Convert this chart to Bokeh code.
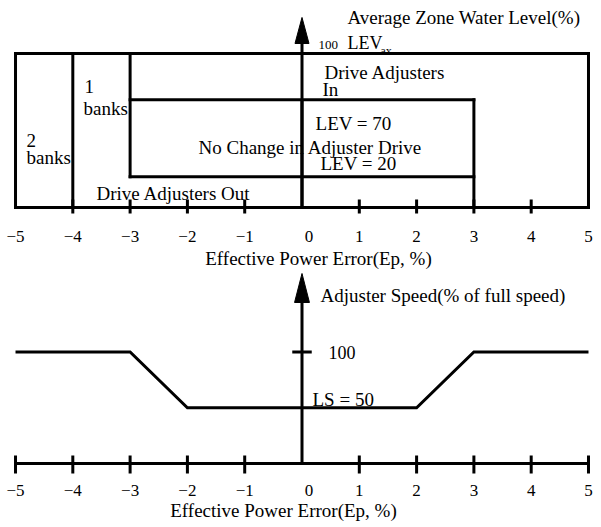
from bokeh.plotting import figure
from bokeh.layouts import column
from bokeh.models import Range1d
from bokeh.core.properties import value
from bokeh.embed import file_html
from bokeh.resources import INLINE

# Effective power error axis
ep_ticks = [-5, -4, -3, -2, -1, 0, 1, 2, 3, 4, 5]
ep_tick_labels = ["\u22125", "\u22124", "\u22123", "\u22122", "\u22121", "0", "1", "2", "3", "4", "5"]
ep_min, ep_max = -5, 5

# Zone map: water level thresholds and bank boundaries
lev_max = 100
lev_in = 70
lev_out = 20
ep_two_banks = -4
ep_one_bank = -3
ep_band = 3

# Adjuster speed profile
speed_ep = [-5, -3, -2, 2, 3, 5]
speed_pct = [100, 100, 50, 50, 100, 100]
speed_full = 100
speed_low = 50

FONT = value("Liberation Serif")
LW = 3
INK = "black"


def make_fig(height, xr, yr):
    p = figure(width=601, height=height, x_range=Range1d(*xr), y_range=Range1d(*yr),
               output_backend="svg", toolbar_location=None,
               x_axis_location=None, y_axis_location=None, min_border=0)
    p.grid.visible = False
    p.outline_line_color = None
    p.background_fill_color = "white"
    p.border_fill_color = "white"
    return p


def label(p, x, y, s, size="19px", align="left", x_offset=0):
    p.text(x=[x], y=[y], text=[s], text_font=FONT, text_font_size=size,
           text_align=align, text_baseline="middle", text_color=INK, x_offset=x_offset)


def segs(p, x0, y0, x1, y1, cap="square"):
    p.segment(x0=x0, y0=y0, x1=x1, y1=y1, line_color=INK, line_width=LW, line_cap=cap)


X_RANGE = (-5.262, 5.227)

# ---------- Zone map: average zone water level vs effective power error ----------
top = make_fig(270, X_RANGE, (-40.91, 134.42))

# outer frame and zone boundaries
segs(top,
     [ep_min, ep_min, ep_min, ep_max, ep_two_banks, ep_one_bank, ep_one_bank, ep_one_bank, ep_band],
     [0, lev_max, 0, 0, 0, lev_out, lev_in, lev_out, 0],
     [ep_max, ep_max, ep_min, ep_max, ep_two_banks, ep_one_bank, ep_band, ep_band, ep_band],
     [0, lev_max, lev_max, lev_max, lev_max, lev_max, lev_in, lev_out, lev_in])

# tick marks crossing the base line
top_ticks = [t for t in ep_ticks if t not in (ep_min, 0, ep_max)]
segs(top, top_ticks, [-3.9] * len(top_ticks), top_ticks, [5.2] * len(top_ticks), cap="butt")

# vertical level axis with arrow head
segs(top, [0], [0], [0], [108], cap="butt")
top.patch(x=[-0.122, 0.122, 0], y=[106.5, 106.5, 123.4], fill_color=INK, line_color=INK, line_width=1)

for t, s in zip(ep_ticks, ep_tick_labels):
    label(top, t, -18.8, s, size="17px", align="center", x_offset=7 if t == 0 else 0)
label(top, 0.288, -33.1, "Effective Power Error(Ep, %)", align="center")

label(top, 0.794, 123.4, "Average Zone Water Level(%)")
label(top, 0.288, 105.2, str(lev_max), size="13px")
label(top, 0.794, 107.1, "LEV", size="18px")
label(top, 1.37, 101.9, "ax", size="12px")
label(top, 0.393, 87.7, "Drive Adjusters")
label(top, 0.358, 76.6, "In")
label(top, -3.796, 78.6, "1")
label(top, -3.813, 64.3, "banks")
label(top, -4.808, 43.5, "2")
label(top, -4.808, 32.5, "banks")
label(top, 0.236, 54.5, "LEV = %d" % lev_in)
label(top, -1.806, 39.0, "No Change in Adjuster Drive")
label(top, 0.323, 28.6, "LEV = %d" % lev_out)
label(top, -3.586, 9.1, "Drive Adjusters Out")
# the level axis passes over the centre label
segs(top, [0], [0], [0], [lev_in], cap="butt")

# ---------- Adjuster speed vs effective power error ----------
bot = make_fig(257, X_RANGE, (-57.4, 173.1))

segs(bot, [ep_min], [0], [ep_max], [0], cap="butt")
bot_ticks = [t for t in ep_ticks if t != 0]
segs(bot, bot_ticks, [-9.0] * len(bot_ticks), bot_ticks, [7.2] * len(bot_ticks), cap="butt")

segs(bot, [0], [0], [0], [146], cap="butt")
bot.patch(x=[-0.13, 0.13, 0], y=[144.4, 144.4, 170.4], fill_color=INK, line_color=INK, line_width=1)
segs(bot, [-0.17], [speed_full], [0.17], [speed_full], cap="butt")

bot.line(x=speed_ep, y=speed_pct, line_color=INK, line_width=LW, line_join="miter")

for t, s in zip(ep_ticks, ep_tick_labels):
    label(bot, t, -24.2, s, size="17px", align="center", x_offset=7 if t == 0 else 0)
label(bot, -0.323, -42.2, "Effective Power Error(Ep, %)", align="center")

label(bot, 0.323, 150.7, "Adjuster Speed(% of full speed)")
label(bot, 0.462, 99.6, str(speed_full), size="18px")
label(bot, 0.183, 57.4, "LS = %d" % speed_low)

layout = column(top, bot, spacing=0)
open("out.html", "w").write(file_html(layout, INLINE))
